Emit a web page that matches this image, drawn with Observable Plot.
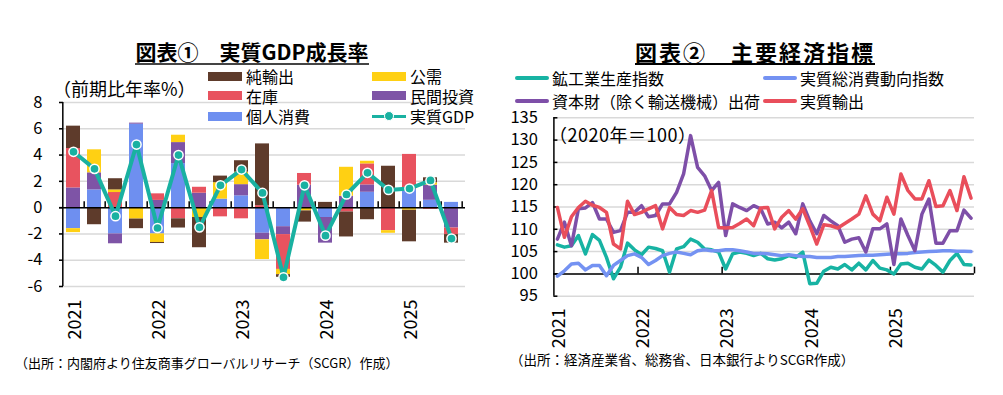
<!DOCTYPE html>
<html><head><meta charset="utf-8">
<script src="https://cdn.jsdelivr.net/npm/d3@7"></script>
<script src="https://cdn.jsdelivr.net/npm/@observablehq/plot@0.6"></script>
<style>
body{margin:0;background:#fff;font-family:"Noto Sans CJK JP","Noto Sans",sans-serif;color:#000;}
#root{position:relative;width:1003px;height:395px;overflow:hidden;background:#fff;}
.abs{position:absolute;white-space:nowrap;}
.title{font-weight:bold;line-height:22px;}
.title span{display:inline-block;border-bottom:2px solid #444;padding-bottom:1px;}
.lg{position:absolute;white-space:nowrap;font-size:16px;line-height:18px;}
</style></head><body><div id="root"></div>
<script>
// ---------- Left chart data (図表①) ----------
const quarters = ["2021Q1","2021Q2","2021Q3","2021Q4","2022Q1","2022Q2","2022Q3","2022Q4","2023Q1","2023Q2","2023Q3","2023Q4","2024Q1","2024Q2","2024Q3","2024Q4","2025Q1","2025Q2","2025Q3"];
const seriesNames = ["個人消費","民間投資","在庫","公需","純輸出"];
const consumption  = [-1.6, 1.35, -2.0, 6.35, -2.0, 3.35, 0, 0.65, 0.9, -1.95, -1.45, 0, -0.75, 0, 1.17, 0, 1.4, 0.56, 0.4];
const investment   = [1.5, 1.3, -0.75, 0.08, 0.55, 1.6, 1.1, 0, 0.85, -0.5, -0.6, 1.7, -1.95, 0.87, 0.56, 0, 0, 1.15, -1.55];
const inventory    = [3.0, 0, 1.15, 0, 0.5, -0.85, 0.45, -0.7, -0.85, 0.15, -2.65, 0.9, 0, -0.33, 1.6, -1.75, 2.65, -0.13, -0.5];
const publicDemand = [-0.3, 1.75, 0.2, -0.87, -0.65, 0.56, -0.75, 1.25, 0.95, -1.5, -0.4, -0.25, 0, 2.2, 0.2, -0.2, -0.2, 0.18, 0];
const netExports   = [1.7, -1.3, 0.85, -0.73, -0.08, -0.7, -2.3, 0.5, 0.87, 4.7, -0.2, -0.85, 0.4, -1.9, -0.92, 3.15, -2.4, 0.38, -0.65];
const realGDP      = [4.25, 2.95, -0.65, 4.8, -1.55, 4.0, -1.5, 1.7, 2.9, 1.12, -5.3, 1.7, -2.13, 1.0, 2.65, 1.35, 1.45, 2.07, -2.35];
const barColors = ["#6E8FF0","#7E54A6","#E8535F","#FFD013","#5E3B2B"];
const gdpColor = "#19B1A1";
const leftYTicks = [-6,-4,-2,0,2,4,6,8];
const leftLegend = ["純輸出","公需","在庫","民間投資","個人消費","実質GDP"];

// ---------- Right chart data (図表②) monthly 2021-01 .. 2025-12 ----------
const years = [2021,2022,2023,2024,2025];
const ipi = [106.5,106.0,106.3,108.6,104.5,108.8,107.5,103.7,98.9,101.5,106.9,105.4,
             104.3,106.0,105.7,105.2,100.4,105.6,106.1,107.8,107.1,105.6,105.4,104.9,
             101.1,104.5,104.9,104.6,104.1,104.6,103.4,103.1,103.4,104.1,103.7,104.9,
             97.8,97.9,100.6,101.5,101.1,102.1,100.9,102.4,100.9,103.0,101.3,100.9,
             100.0,102.2,102.4,101.5,101.1,103.1,101.9,100.4,103.0,104.6,102.1,102.0];
const consumptionIdx = [99.5,100.7,102.2,102.4,100.9,101.9,101.9,99.6,101.9,103.0,104.1,104.5,
             103.7,102.1,103.0,104.1,104.6,104.9,104.6,104.3,105.2,105.4,105.2,105.2,
             105.4,105.4,105.2,104.9,104.6,104.6,104.5,104.3,104.1,104.3,104.1,103.9,
             103.9,103.7,103.7,103.7,103.9,103.9,104.0,104.1,104.2,104.2,104.3,104.4,
             104.5,104.5,104.6,104.8,104.9,105.0,105.1,105.2,105.2,105.1,105.1,105.0];
const capitalGoods = [107.8,111.6,106.3,114.6,114.8,116.0,112.3,112.3,109.3,109.7,113.8,113.8,
             115.3,112.8,113.1,115.7,115.7,118.3,122.4,131.0,123.9,122.0,118.7,120.5,
             108.6,115.7,114.9,114.2,115.3,114.6,111.2,111.6,110.3,111.6,109.0,115.7,
             111.9,109.0,113.1,111.9,110.8,107.1,107.8,108.1,104.9,110.1,110.1,111.2,
             102.1,112.3,108.6,105.2,113.4,116.8,106.9,106.9,109.7,109.7,114.3,112.5];
const realExports = [114.9,108.2,112.8,114.9,116.3,115.4,114.9,113.8,106.7,105.6,116.3,113.3,
             113.8,114.6,115.3,110.1,114.9,113.3,113.1,114.2,113.8,114.3,118.7,110.4,
             110.3,110.4,111.3,112.3,110.8,114.8,114.9,110.1,112.7,114.2,112.3,114.6,
             110.8,106.7,111.0,110.8,110.3,111.3,112.3,113.4,117.5,113.4,111.9,117.2,
             113.4,122.4,118.7,116.8,116.8,120.9,115.1,115.3,118.7,114.2,121.8,117.0];
const lineNames = ["鉱工業生産指数","実質総消費動向指数","資本財（除く輸送機械）出荷","実質輸出"];
const lineColors = ["#17B3A3","#7492F2","#7E4FA8","#E94E5B"];
const rightYTicks = [95,100,105,110,115,120,125,130,135];

const FONT = '"Noto Sans CJK JP","Noto Sans",sans-serif';
const root = document.getElementById("root");
function addDiv(html, cls, style){ const d=document.createElement("div"); d.className=cls; d.innerHTML=html; Object.assign(d.style, style); root.appendChild(d); return d; }

// ---------- Left plot ----------
const LW=480, LH=270, LML=59, LMR=15, LMT=12, LMB=74;
const lPlotW = LW-LML-LMR, lStep = lPlotW/quarters.length;
const seriesArrays = [consumption, investment, inventory, publicDemand, netExports];
const barData = [];
seriesArrays.forEach((arr,s)=>arr.forEach((v,i)=>barData.push({q:quarters[i], series:seriesNames[s], value:v})));
const gdpData = quarters.map((q,i)=>({q, v:realGDP[i]}));
const leftPlot = Plot.plot({
  width:LW, height:LH, marginLeft:LML, marginRight:LMR, marginTop:LMT, marginBottom:LMB,
  style:{fontFamily:FONT, fontSize:"16px", color:"#000", background:"transparent", overflow:"visible"},
  x:{type:"band", domain:quarters, paddingInner:0.345, paddingOuter:0.1725, axis:null},
  y:{domain:[-6,8], axis:null},
  color:{domain:seriesNames, range:barColors},
  marks:[
    Plot.ruleY(leftYTicks, {y:d=>d, stroke:"#d9d9d9", strokeWidth:1.5}),
    Plot.barY(barData, {x:"q", y:"value", fill:"series"}),
    Plot.ruleY([0], {y:d=>d, stroke:"#000", strokeWidth:1.5}),
    Plot.ruleX(quarters, {x:d=>d, y1:0, y2:0.45, dx:lStep/2, stroke:"#000", strokeWidth:1.5}),
    Plot.ruleX([quarters[0]], {x:d=>d, y1:-6, y2:8, dx:-lStep/2, stroke:"#000", strokeWidth:1.5}),
    Plot.ruleY(leftYTicks, {y:d=>d, insetRight:lPlotW-4, stroke:"#000", strokeWidth:1.5}),
    Plot.axisY({ticks:leftYTicks, tickFormat:d=>String(d), tickSize:0, tickPadding:17, fontSize:16.5, label:null}),
    Plot.axisX({ticks:quarters.filter(q=>q.endsWith("Q1")), tickFormat:q=>q.slice(0,4), tickRotate:-90, tickSize:0, tickPadding:13, fontSize:18, dx:1.5, label:null}),
    Plot.lineY(gdpData, {x:"q", y:"v", stroke:gdpColor, strokeWidth:4, strokeLinejoin:"round"}),
    Plot.dot(gdpData, {x:"q", y:"v", r:4.6, fill:gdpColor, stroke:"#fff", strokeWidth:1.5})
  ]
});
Object.assign(leftPlot.style, {position:"absolute", left:"0px", top:"90px"});
root.appendChild(leftPlot);

// ---------- Right plot ----------
const RW=490, RH=260, RML=53.4, RMR=16, RMT=12.3, RMB=69.3;
const rPlotW = RW-RML-RMR;
const lineArrays = [ipi, consumptionIdx, capitalGoods, realExports];
const rightPlot = Plot.plot({
  width:RW, height:RH, marginLeft:RML, marginRight:RMR, marginTop:RMT, marginBottom:RMB,
  style:{fontFamily:FONT, fontSize:"16px", color:"#000", background:"transparent", overflow:"visible"},
  x:{domain:[0, years.length*12], axis:null},
  y:{domain:[95,135], axis:null},
  marks:[
    Plot.ruleY(rightYTicks, {y:d=>d, stroke:"#d9d9d9", strokeWidth:1.5}),
    Plot.ruleY([100], {y:d=>d, stroke:"#000", strokeWidth:1.5}),
    Plot.ruleX(years.map(y=>(y-years[0]+1)*12), {x:d=>d, y1:100, y2:101.5, stroke:"#000", strokeWidth:1.5}),
    Plot.ruleX([0], {x:d=>d, y1:95, y2:135, stroke:"#000", strokeWidth:1.5}),
    Plot.ruleY(rightYTicks, {y:d=>d, insetRight:rPlotW-4, stroke:"#000", strokeWidth:1.5}),
    Plot.axisY({ticks:rightYTicks, tickFormat:d=>String(d), tickSize:0, tickPadding:16, fontSize:16.5, label:null}),
    Plot.axisX({ticks:years.map(y=>(y-years[0])*12+0.5), tickFormat:d=>String(years[0]+Math.floor(d/12)), tickRotate:-90, tickSize:0, tickPadding:12, fontSize:18, dx:2, label:null}),
    ...lineArrays.map((arr,k)=>Plot.lineY(arr, {x:(d,i)=>i+0.5, y:d=>d, stroke:lineColors[k], strokeWidth:3.5, strokeLinejoin:"round"}))
  ]
});
Object.assign(rightPlot.style, {position:"absolute", left:"500px", top:"105px"});
root.appendChild(rightPlot);

// ---------- Titles ----------
addDiv('<span>図表①　実質GDP成長率</span>', 'abs title', {left:"0px", width:"504px", textAlign:"center", top:"40px", fontSize:"21px"});
addDiv('<span style="border-bottom-color:#000">図表②　主要経済指標</span>', 'abs title', {left:"500px", width:"510px", textAlign:"center", top:"40px", fontSize:"22px", letterSpacing:"2px"});

// ---------- Axis notes ----------
addDiv('（前期比年率%）', 'abs', {left:"53px", top:"78px", fontSize:"18px", lineHeight:"20px"});
addDiv('（2020年＝100）', 'abs', {left:"549px", top:"124px", fontSize:"18px", lineHeight:"20px", letterSpacing:"0.5px"});

// ---------- Left legend ----------
const lx = [208, 372], ly = [76, 95.5, 116];
const legendColor = {"純輸出":barColors[4],"公需":barColors[3],"在庫":barColors[2],"民間投資":barColors[1],"個人消費":barColors[0]};
leftLegend.forEach((name,k)=>{
  const x = lx[k%2], y = ly[Math.floor(k/2)];
  if (name === "実質GDP") {
    addDiv('', 'abs', {left:x+"px", top:(y-1.5)+"px", width:"34px", height:"3px", background:gdpColor});
    addDiv('', 'abs', {left:(x+17-5.5)+"px", top:(y-5.5)+"px", width:"8px", height:"8px", borderRadius:"50%", background:gdpColor, border:"1.5px solid #fff"});
  } else {
    addDiv('', 'abs', {left:x+"px", top:(y-4.5)+"px", width:"34px", height:"9px", background:legendColor[name]});
  }
  addDiv(name, 'lg', {left:(x+38)+"px", top:(y-9)+"px"});
});

// ---------- Right legend ----------
const rx = [515, 763], ry = [77.7, 100.7];
lineNames.forEach((name,k)=>{
  const x = rx[k%2], y = ry[Math.floor(k/2)];
  addDiv('', 'abs', {left:x+"px", top:(y-2)+"px", width:"34px", height:"4px", borderRadius:"2px", background:lineColors[k]});
  addDiv(name, 'lg', {left:(x+37)+"px", top:(y-9)+"px"});
});

// ---------- Sources ----------
addDiv('（出所：内閣府より住友商事グローバルリサーチ（SCGR）作成）', 'abs', {left:"15px", top:"354px", fontSize:"13px", lineHeight:"18px"});
addDiv('（出所：経済産業省、総務省、日本銀行よりSCGR作成）', 'abs', {left:"510px", top:"350px", fontSize:"13.5px", lineHeight:"18px"});
</script></body></html>
